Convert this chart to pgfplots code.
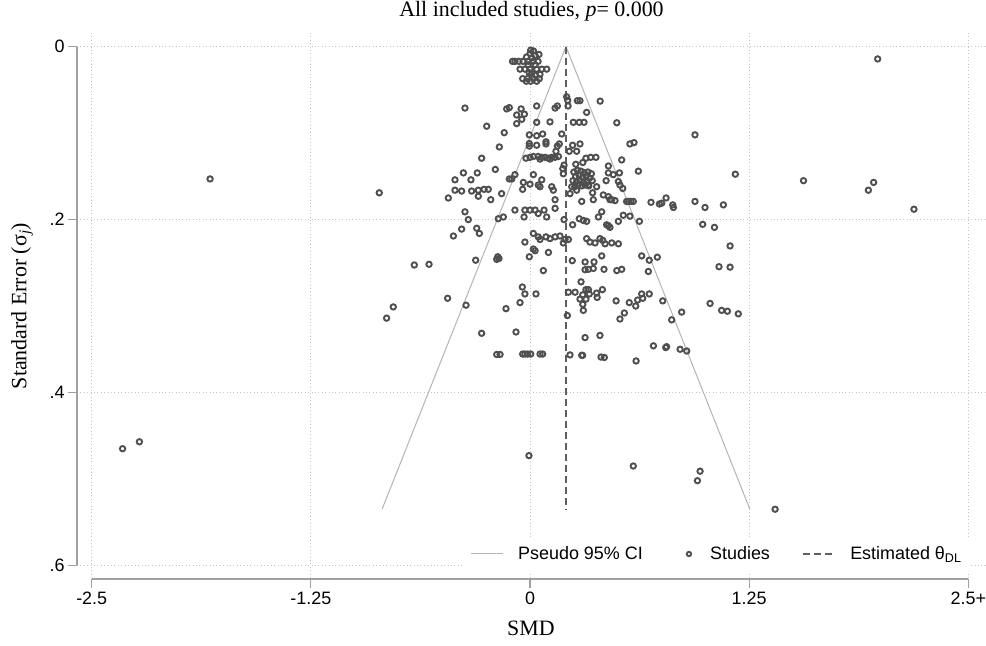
\documentclass[border=0pt]{standalone}
\usepackage{pgfplots}
\pgfplotsset{compat=1.18}
\usepackage{fontspec}
\setmainfont{Liberation Serif}
\newfontfamily\sans{Liberation Sans}
\definecolor{markgray}{HTML}{4F4F4F}
\definecolor{cigray}{HTML}{B4B4B4}
\definecolor{dashgray}{HTML}{5F5F5F}
\definecolor{axisgray}{HTML}{A0A0A0}
\definecolor{gridgray}{HTML}{C4C4C4}
\pgfplotsset{
  lineleg/.style={legend image code/.code={\draw[##1] (0bp,0bp) -- (32bp,0bp);}},
  markleg/.style={legend image code/.code={\path (0bp,0bp) (20bp,0bp); \draw[##1, mark size=2.2bp, line width=1.4bp] plot coordinates {(14bp,0bp)};}},
}
\begin{document}
\begin{tikzpicture}
\useasboundingbox (-77bp,-67bp) rectangle (909bp,579bp);
\begin{axis}[
  at={(0,0)}, anchor=south west,
  scale only axis, width=909bp, height=546bp,
  xmin=-2.584, xmax=2.601, ymin=-0.0158, ymax=0.6157,
  y dir=reverse,
  clip=false,
  axis line style={draw=none},
  xtick={-2.5,-1.25,0,1.25,2.5}, xticklabels={-2.5,-1.25,0,1.25,2.5+},
  ytick={0,0.2,0.4,0.6}, yticklabels={0,.2,.4,.6},
  xtick pos=bottom, ytick pos=left,
  tick align=outside, major tick length=9bp,
  tick style={axisgray, line width=1.2bp},
  ticklabel style={font=\sans\fontsize{18}{20}\selectfont, text=black},
  xmajorgrids, ymajorgrids,
  major grid style={gridgray, line width=0.8bp, dash pattern=on 0.8bp off 2.6bp},
  title={All included studies, \textit{p}= 0.000},
  every axis title/.style={at={(0.5,1.0394)}, anchor=center, font=\fontsize{22}{24}\selectfont},
  xlabel={SMD},
  xlabel style={at={(0.4994,-0.0897)}, anchor=center, font=\fontsize{22}{24}\selectfont},
  ylabel={Standard Error (σ\textsubscript{\itshape j})},
  ylabel style={at={(-0.0605,0.5)}, anchor=center, font=\fontsize{22}{24}\selectfont},
  legend columns=3,
  legend style={at={(0.4257,0.0458)}, anchor=west, draw=none, fill=white,
    font=\sans\fontsize{18}{20}\selectfont, inner xsep=6bp, inner ysep=8bp,
    /tikz/every even column/.append style={column sep=30bp},
    /tikz/every odd column/.append style={column sep=13bp}},
  legend cell align=left,
]
\addplot[cigray, line width=1bp, lineleg]
  coordinates {(-0.844,0.535) (0.205,0) (1.254,0.535)};
\addlegendentry{Pseudo 95\% CI}
\addplot[only marks, markgray, mark=o, mark size=2.7bp, mark options={line width=1.9bp}, markleg]
  table {
x y
0.004 0.004
0.000 0.008
0.029 0.010
0.051 0.009
0.010 0.013
-0.020 0.012
0.020 0.005
-0.100 0.017
-0.086 0.017
-0.063 0.017
-0.040 0.017
-0.011 0.017
0.017 0.017
0.046 0.017
-0.011 0.021
0.029 0.021
-0.057 0.026
-0.029 0.026
0.000 0.026
0.038 0.026
0.067 0.026
0.095 0.026
-0.005 0.030
0.010 0.031
0.030 0.033
0.057 0.032
-0.042 0.037
-0.015 0.037
0.019 0.037
0.053 0.037
-0.021 0.040
0.004 0.040
0.038 0.040
1.983 0.0142
-0.371 0.071
-0.133 0.072
-0.118 0.0705
-0.051 0.072
-0.076 0.079
-0.032 0.078
-0.047 0.084
-0.076 0.089
0.038 0.0686
0.038 0.0875
0.114 0.087
0.143 0.071
0.156 0.0686
0.209 0.058
0.215 0.062
0.217 0.0686
0.270 0.0625
0.285 0.0625
0.323 0.076
0.247 0.0875
0.281 0.0875
0.308 0.0875
0.400 0.063
0.495 0.088
-0.247 0.092
-0.147 0.0995
-0.004 0.102
0.038 0.103
0.072 0.101
0.181 0.101
0.941 0.102
-0.175 0.116
-0.004 0.112
-0.004 0.115
0.038 0.114
0.091 0.110
0.091 0.1125
0.156 0.115
0.167 0.1125
0.243 0.114
0.285 0.1125
0.224 0.121
0.266 0.121
0.148 0.121
0.570 0.1125
0.593 0.111
-0.276 0.129
-0.023 0.129
0.000 0.128
0.019 0.127
0.047 0.127
0.067 0.128
0.086 0.128
0.105 0.129
0.124 0.128
0.143 0.128
0.162 0.127
0.057 0.130
0.114 0.130
0.319 0.129
0.346 0.128
0.376 0.128
0.523 0.131
-0.198 0.142
0.261 0.136
0.301 0.134
0.447 0.138
0.187 0.141
0.194 0.137
-0.380 0.146
-0.301 0.146
-0.428 0.154
-0.337 0.154
-0.086 0.148
-0.104 0.153
-0.118 0.153
0.019 0.148
-0.038 0.157
0.000 0.159
0.047 0.160
0.067 0.154
0.057 0.162
-0.042 0.165
0.190 0.147
0.250 0.145
0.270 0.143
0.290 0.144
0.310 0.146
0.330 0.145
0.350 0.147
0.260 0.150
0.280 0.149
0.300 0.151
0.320 0.150
0.340 0.152
0.245 0.155
0.265 0.156
0.285 0.155
0.305 0.157
0.325 0.156
0.355 0.155
0.275 0.160
0.295 0.161
0.315 0.160
0.335 0.161
0.255 0.162
0.434 0.155
0.447 0.146
0.475 0.148
0.510 0.146
0.504 0.156
0.529 0.164
0.513 0.160
0.618 0.144
-0.390 0.167
-0.333 0.167
-0.295 0.166
-0.262 0.165
-0.238 0.165
-0.295 0.173
-0.224 0.177
-0.162 0.170
-0.466 0.175
-0.428 0.166
0.238 0.162
0.266 0.166
0.295 0.179
0.361 0.177
0.357 0.169
0.380 0.162
0.332 0.160
0.228 0.170
0.143 0.177
0.124 0.162
0.133 0.166
0.418 0.1715
0.447 0.1735
0.466 0.177
0.485 0.178
0.456 0.177
0.551 0.179
0.563 0.179
0.576 0.179
0.589 0.179
0.690 0.180
0.738 0.182
0.751 0.181
0.776 0.175
0.814 0.183
0.818 0.186
0.941 0.179
0.998 0.186
1.103 0.183
1.171 0.1475
1.560 0.155
1.930 0.166
1.960 0.157
2.190 0.188
-1.825 0.153
-0.860 0.169
-0.371 0.191
-0.352 0.200
-0.181 0.199
-0.152 0.197
-0.086 0.189
-0.034 0.197
-0.029 0.189
0.000 0.189
0.029 0.189
0.047 0.193
0.080 0.189
0.095 0.197
0.143 0.187
0.194 0.200
0.243 0.206
0.281 0.199
0.304 0.201
0.323 0.202
0.390 0.197
0.409 0.191
0.437 0.206
0.447 0.207
0.456 0.209
0.504 0.202
0.532 0.195
0.570 0.196
0.624 0.202
0.985 0.2055
1.052 0.209
-0.437 0.219
-0.390 0.211
-0.304 0.210
-0.289 0.216
0.019 0.216
0.047 0.220
0.057 0.223
0.091 0.220
0.114 0.222
0.143 0.220
0.171 0.219
0.200 0.223
0.219 0.223
-0.029 0.226
0.323 0.222
0.342 0.226
0.371 0.227
0.399 0.222
0.415 0.224
0.428 0.228
0.466 0.227
0.504 0.228
1.141 0.2305
0.190 0.227
0.019 0.234
0.029 0.236
0.105 0.238
-0.004 0.243
-0.184 0.243
-0.177 0.245
-0.190 0.246
-0.310 0.247
-0.660 0.2525
-0.576 0.2517
0.409 0.242
0.241 0.2475
0.314 0.249
0.365 0.249
0.314 0.258
0.333 0.2575
0.361 0.2565
0.422 0.2575
0.495 0.259
0.523 0.2575
0.637 0.242
0.680 0.247
0.726 0.2435
0.675 0.260
1.078 0.2545
1.141 0.255
0.076 0.259
0.291 0.272
0.319 0.281
0.333 0.281
0.219 0.284
0.257 0.284
0.301 0.287
0.338 0.286
0.380 0.285
0.383 0.290
0.413 0.281
0.285 0.292
0.319 0.292
0.301 0.298
0.304 0.305
-0.470 0.291
-0.365 0.299
-0.780 0.301
-0.818 0.314
-0.044 0.278
-0.029 0.286
0.034 0.286
-0.057 0.296
-0.137 0.303
0.491 0.294
0.566 0.296
0.603 0.300
0.614 0.293
0.643 0.291
0.637 0.286
0.680 0.286
0.757 0.294
0.538 0.308
0.513 0.315
0.808 0.316
0.865 0.307
1.027 0.297
1.093 0.305
1.126 0.306
1.188 0.309
0.213 0.311
-0.276 0.3315
-0.080 0.330
0.314 0.3365
0.399 0.334
0.704 0.346
0.774 0.348
0.779 0.347
0.856 0.350
0.894 0.352
0.605 0.3635
-0.190 0.356
-0.171 0.356
-0.042 0.3555
-0.029 0.3555
-0.013 0.3555
0.004 0.3555
0.057 0.3555
0.072 0.3555
0.228 0.3565
0.295 0.357
0.300 0.357
0.405 0.359
0.424 0.3595
-2.324 0.465
-2.228 0.457
-0.006 0.473
0.589 0.485
0.970 0.491
0.955 0.502
1.398 0.535
};
\addlegendentry{Studies}
\addplot[dashgray, line width=1.3bp, dash pattern=on 7bp off 4bp, lineleg]
  coordinates {(0.205,0) (0.205,0.535)};
\addlegendentry{Estimated θ\textsubscript{DL}}
\draw[axisgray, line width=1.2bp] (axis cs:-2.584,0) -- (axis cs:-2.584,0.6);
\draw[axisgray, line width=1.2bp] (axis cs:-2.5,0.6157) -- (axis cs:2.5,0.6157);
\end{axis}
\end{tikzpicture}
\end{document}
